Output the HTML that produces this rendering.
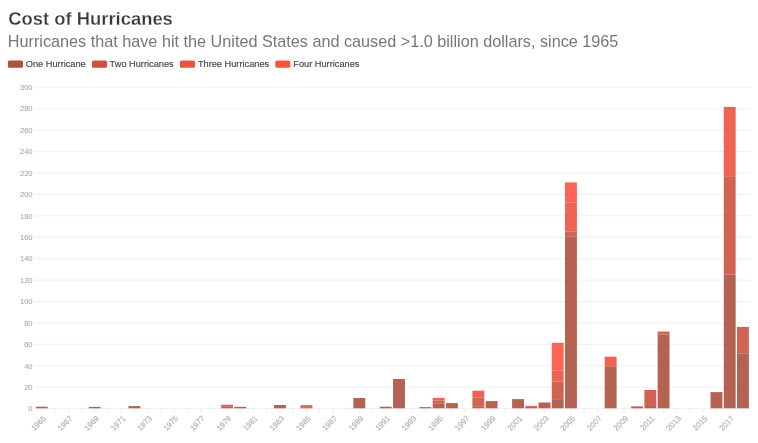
<!DOCTYPE html>
<html><head><meta charset="utf-8"><style>
html,body{margin:0;padding:0;background:#fff;}
body{width:758px;height:443px;overflow:hidden;position:relative;font-family:"Liberation Sans",sans-serif;}
svg{position:absolute;left:0;top:0;will-change:transform;}
</style></head><body>
<svg width="758" height="443" viewBox="0 0 758 443">
<text transform="translate(8.3,25.1) scale(1,1.02)" style="font-size:18.4px;font-weight:bold" fill="#383838" stroke="#fff" stroke-linejoin="round" stroke-width="0.25">Cost of Hurricanes</text>
<text transform="translate(7.8,46.8) scale(1,1.02)" style="font-size:16.22px" fill="#777">Hurricanes that have hit the United States and caused &gt;1.0 billion dollars, since 1965</text>
<rect x="7.9" y="60.4" width="15.1" height="7.3" rx="1.5" fill="#ac5240"/>
<text transform="translate(25.8,67.4)" style="font-size:9.22px" fill="#444" stroke="#444" stroke-linejoin="round" stroke-width="0.15">One Hurricane</text>
<rect x="92" y="60.4" width="15.1" height="7.3" rx="1.5" fill="#cc5240"/>
<text transform="translate(109.6,67.4)" style="font-size:9.22px" fill="#444" stroke="#444" stroke-linejoin="round" stroke-width="0.15">Two Hurricanes</text>
<rect x="179.9" y="60.4" width="15.1" height="7.3" rx="1.5" fill="#ec5240"/>
<text transform="translate(197.9,67.4)" style="font-size:9.22px" fill="#444" stroke="#444" stroke-linejoin="round" stroke-width="0.15">Three Hurricanes</text>
<rect x="275.3" y="60.4" width="15.1" height="7.3" rx="1.5" fill="#ff5240"/>
<text transform="translate(293.3,67.4)" style="font-size:9.22px" fill="#444" stroke="#444" stroke-linejoin="round" stroke-width="0.15">Four Hurricanes</text>
<line x1="35.19" x2="750.1" y1="408.65" y2="408.65" stroke="#ebebeb" stroke-width="0.8"/>
<text transform="translate(32.6,411.400) scale(1,1.04)" text-anchor="end" style="font-size:7.6px" fill="#b2b2b2" stroke="#b2b2b2" stroke-linejoin="round" stroke-width="0.18">0</text>
<line x1="35.19" x2="750.1" y1="387.23" y2="387.23" stroke="#ebebeb" stroke-width="0.8"/>
<text transform="translate(32.6,389.978) scale(1,1.04)" text-anchor="end" style="font-size:7.6px" fill="#b2b2b2" stroke="#b2b2b2" stroke-linejoin="round" stroke-width="0.18">20</text>
<line x1="35.19" x2="750.1" y1="365.81" y2="365.81" stroke="#ebebeb" stroke-width="0.8"/>
<text transform="translate(32.6,368.556) scale(1,1.04)" text-anchor="end" style="font-size:7.6px" fill="#b2b2b2" stroke="#b2b2b2" stroke-linejoin="round" stroke-width="0.18">40</text>
<line x1="35.19" x2="750.1" y1="344.38" y2="344.38" stroke="#ebebeb" stroke-width="0.8"/>
<text transform="translate(32.6,347.134) scale(1,1.04)" text-anchor="end" style="font-size:7.6px" fill="#b2b2b2" stroke="#b2b2b2" stroke-linejoin="round" stroke-width="0.18">60</text>
<line x1="35.19" x2="750.1" y1="322.96" y2="322.96" stroke="#ebebeb" stroke-width="0.8"/>
<text transform="translate(32.6,325.712) scale(1,1.04)" text-anchor="end" style="font-size:7.6px" fill="#b2b2b2" stroke="#b2b2b2" stroke-linejoin="round" stroke-width="0.18">80</text>
<line x1="35.19" x2="750.1" y1="301.54" y2="301.54" stroke="#ebebeb" stroke-width="0.8"/>
<text transform="translate(32.6,304.290) scale(1,1.04)" text-anchor="end" style="font-size:7.6px" fill="#b2b2b2" stroke="#b2b2b2" stroke-linejoin="round" stroke-width="0.18">100</text>
<line x1="35.19" x2="750.1" y1="280.12" y2="280.12" stroke="#ebebeb" stroke-width="0.8"/>
<text transform="translate(32.6,282.868) scale(1,1.04)" text-anchor="end" style="font-size:7.6px" fill="#b2b2b2" stroke="#b2b2b2" stroke-linejoin="round" stroke-width="0.18">120</text>
<line x1="35.19" x2="750.1" y1="258.70" y2="258.70" stroke="#ebebeb" stroke-width="0.8"/>
<text transform="translate(32.6,261.446) scale(1,1.04)" text-anchor="end" style="font-size:7.6px" fill="#b2b2b2" stroke="#b2b2b2" stroke-linejoin="round" stroke-width="0.18">140</text>
<line x1="35.19" x2="750.1" y1="237.27" y2="237.27" stroke="#ebebeb" stroke-width="0.8"/>
<text transform="translate(32.6,240.024) scale(1,1.04)" text-anchor="end" style="font-size:7.6px" fill="#b2b2b2" stroke="#b2b2b2" stroke-linejoin="round" stroke-width="0.18">160</text>
<line x1="35.19" x2="750.1" y1="215.85" y2="215.85" stroke="#ebebeb" stroke-width="0.8"/>
<text transform="translate(32.6,218.602) scale(1,1.04)" text-anchor="end" style="font-size:7.6px" fill="#b2b2b2" stroke="#b2b2b2" stroke-linejoin="round" stroke-width="0.18">180</text>
<line x1="35.19" x2="750.1" y1="194.43" y2="194.43" stroke="#ebebeb" stroke-width="0.8"/>
<text transform="translate(32.6,197.180) scale(1,1.04)" text-anchor="end" style="font-size:7.6px" fill="#b2b2b2" stroke="#b2b2b2" stroke-linejoin="round" stroke-width="0.18">200</text>
<line x1="35.19" x2="750.1" y1="173.01" y2="173.01" stroke="#ebebeb" stroke-width="0.8"/>
<text transform="translate(32.6,175.758) scale(1,1.04)" text-anchor="end" style="font-size:7.6px" fill="#b2b2b2" stroke="#b2b2b2" stroke-linejoin="round" stroke-width="0.18">220</text>
<line x1="35.19" x2="750.1" y1="151.59" y2="151.59" stroke="#ebebeb" stroke-width="0.8"/>
<text transform="translate(32.6,154.336) scale(1,1.04)" text-anchor="end" style="font-size:7.6px" fill="#b2b2b2" stroke="#b2b2b2" stroke-linejoin="round" stroke-width="0.18">240</text>
<line x1="35.19" x2="750.1" y1="130.16" y2="130.16" stroke="#ebebeb" stroke-width="0.8"/>
<text transform="translate(32.6,132.914) scale(1,1.04)" text-anchor="end" style="font-size:7.6px" fill="#b2b2b2" stroke="#b2b2b2" stroke-linejoin="round" stroke-width="0.18">260</text>
<line x1="35.19" x2="750.1" y1="108.74" y2="108.74" stroke="#ebebeb" stroke-width="0.8"/>
<text transform="translate(32.6,111.492) scale(1,1.04)" text-anchor="end" style="font-size:7.6px" fill="#b2b2b2" stroke="#b2b2b2" stroke-linejoin="round" stroke-width="0.18">280</text>
<line x1="35.19" x2="750.1" y1="87.32" y2="87.32" stroke="#ebebeb" stroke-width="0.8"/>
<text transform="translate(32.6,90.070) scale(1,1.04)" text-anchor="end" style="font-size:7.6px" fill="#b2b2b2" stroke="#b2b2b2" stroke-linejoin="round" stroke-width="0.18">300</text>
<line x1="41.80" x2="41.80" y1="408.60" y2="412.90" stroke="#ebebeb" stroke-width="0.8"/>
<line x1="55.03" x2="55.03" y1="408.60" y2="412.90" stroke="#ebebeb" stroke-width="0.8"/>
<line x1="68.26" x2="68.26" y1="408.60" y2="412.90" stroke="#ebebeb" stroke-width="0.8"/>
<line x1="81.49" x2="81.49" y1="408.60" y2="412.90" stroke="#ebebeb" stroke-width="0.8"/>
<line x1="94.72" x2="94.72" y1="408.60" y2="412.90" stroke="#ebebeb" stroke-width="0.8"/>
<line x1="107.95" x2="107.95" y1="408.60" y2="412.90" stroke="#ebebeb" stroke-width="0.8"/>
<line x1="121.18" x2="121.18" y1="408.60" y2="412.90" stroke="#ebebeb" stroke-width="0.8"/>
<line x1="134.41" x2="134.41" y1="408.60" y2="412.90" stroke="#ebebeb" stroke-width="0.8"/>
<line x1="147.64" x2="147.64" y1="408.60" y2="412.90" stroke="#ebebeb" stroke-width="0.8"/>
<line x1="160.87" x2="160.87" y1="408.60" y2="412.90" stroke="#ebebeb" stroke-width="0.8"/>
<line x1="174.09" x2="174.09" y1="408.60" y2="412.90" stroke="#ebebeb" stroke-width="0.8"/>
<line x1="187.32" x2="187.32" y1="408.60" y2="412.90" stroke="#ebebeb" stroke-width="0.8"/>
<line x1="200.55" x2="200.55" y1="408.60" y2="412.90" stroke="#ebebeb" stroke-width="0.8"/>
<line x1="213.78" x2="213.78" y1="408.60" y2="412.90" stroke="#ebebeb" stroke-width="0.8"/>
<line x1="227.01" x2="227.01" y1="408.60" y2="412.90" stroke="#ebebeb" stroke-width="0.8"/>
<line x1="240.24" x2="240.24" y1="408.60" y2="412.90" stroke="#ebebeb" stroke-width="0.8"/>
<line x1="253.47" x2="253.47" y1="408.60" y2="412.90" stroke="#ebebeb" stroke-width="0.8"/>
<line x1="266.70" x2="266.70" y1="408.60" y2="412.90" stroke="#ebebeb" stroke-width="0.8"/>
<line x1="279.93" x2="279.93" y1="408.60" y2="412.90" stroke="#ebebeb" stroke-width="0.8"/>
<line x1="293.16" x2="293.16" y1="408.60" y2="412.90" stroke="#ebebeb" stroke-width="0.8"/>
<line x1="306.38" x2="306.38" y1="408.60" y2="412.90" stroke="#ebebeb" stroke-width="0.8"/>
<line x1="319.61" x2="319.61" y1="408.60" y2="412.90" stroke="#ebebeb" stroke-width="0.8"/>
<line x1="332.84" x2="332.84" y1="408.60" y2="412.90" stroke="#ebebeb" stroke-width="0.8"/>
<line x1="346.07" x2="346.07" y1="408.60" y2="412.90" stroke="#ebebeb" stroke-width="0.8"/>
<line x1="359.30" x2="359.30" y1="408.60" y2="412.90" stroke="#ebebeb" stroke-width="0.8"/>
<line x1="372.53" x2="372.53" y1="408.60" y2="412.90" stroke="#ebebeb" stroke-width="0.8"/>
<line x1="385.76" x2="385.76" y1="408.60" y2="412.90" stroke="#ebebeb" stroke-width="0.8"/>
<line x1="398.99" x2="398.99" y1="408.60" y2="412.90" stroke="#ebebeb" stroke-width="0.8"/>
<line x1="412.22" x2="412.22" y1="408.60" y2="412.90" stroke="#ebebeb" stroke-width="0.8"/>
<line x1="425.45" x2="425.45" y1="408.60" y2="412.90" stroke="#ebebeb" stroke-width="0.8"/>
<line x1="438.67" x2="438.67" y1="408.60" y2="412.90" stroke="#ebebeb" stroke-width="0.8"/>
<line x1="451.90" x2="451.90" y1="408.60" y2="412.90" stroke="#ebebeb" stroke-width="0.8"/>
<line x1="465.13" x2="465.13" y1="408.60" y2="412.90" stroke="#ebebeb" stroke-width="0.8"/>
<line x1="478.36" x2="478.36" y1="408.60" y2="412.90" stroke="#ebebeb" stroke-width="0.8"/>
<line x1="491.59" x2="491.59" y1="408.60" y2="412.90" stroke="#ebebeb" stroke-width="0.8"/>
<line x1="504.82" x2="504.82" y1="408.60" y2="412.90" stroke="#ebebeb" stroke-width="0.8"/>
<line x1="518.05" x2="518.05" y1="408.60" y2="412.90" stroke="#ebebeb" stroke-width="0.8"/>
<line x1="531.28" x2="531.28" y1="408.60" y2="412.90" stroke="#ebebeb" stroke-width="0.8"/>
<line x1="544.51" x2="544.51" y1="408.60" y2="412.90" stroke="#ebebeb" stroke-width="0.8"/>
<line x1="557.74" x2="557.74" y1="408.60" y2="412.90" stroke="#ebebeb" stroke-width="0.8"/>
<line x1="570.96" x2="570.96" y1="408.60" y2="412.90" stroke="#ebebeb" stroke-width="0.8"/>
<line x1="584.19" x2="584.19" y1="408.60" y2="412.90" stroke="#ebebeb" stroke-width="0.8"/>
<line x1="597.42" x2="597.42" y1="408.60" y2="412.90" stroke="#ebebeb" stroke-width="0.8"/>
<line x1="610.65" x2="610.65" y1="408.60" y2="412.90" stroke="#ebebeb" stroke-width="0.8"/>
<line x1="623.88" x2="623.88" y1="408.60" y2="412.90" stroke="#ebebeb" stroke-width="0.8"/>
<line x1="637.11" x2="637.11" y1="408.60" y2="412.90" stroke="#ebebeb" stroke-width="0.8"/>
<line x1="650.34" x2="650.34" y1="408.60" y2="412.90" stroke="#ebebeb" stroke-width="0.8"/>
<line x1="663.57" x2="663.57" y1="408.60" y2="412.90" stroke="#ebebeb" stroke-width="0.8"/>
<line x1="676.80" x2="676.80" y1="408.60" y2="412.90" stroke="#ebebeb" stroke-width="0.8"/>
<line x1="690.03" x2="690.03" y1="408.60" y2="412.90" stroke="#ebebeb" stroke-width="0.8"/>
<line x1="703.25" x2="703.25" y1="408.60" y2="412.90" stroke="#ebebeb" stroke-width="0.8"/>
<line x1="716.48" x2="716.48" y1="408.60" y2="412.90" stroke="#ebebeb" stroke-width="0.8"/>
<line x1="729.71" x2="729.71" y1="408.60" y2="412.90" stroke="#ebebeb" stroke-width="0.8"/>
<line x1="742.94" x2="742.94" y1="408.60" y2="412.90" stroke="#ebebeb" stroke-width="0.8"/>
<text transform="translate(46.60,419.10) rotate(-45) scale(1,1.04)" text-anchor="end" style="font-size:7.65px" fill="#b2b2b2" stroke="#b2b2b2" stroke-linejoin="round" stroke-width="0.18">1965</text>
<text transform="translate(73.06,419.10) rotate(-45) scale(1,1.04)" text-anchor="end" style="font-size:7.65px" fill="#b2b2b2" stroke="#b2b2b2" stroke-linejoin="round" stroke-width="0.18">1967</text>
<text transform="translate(99.52,419.10) rotate(-45) scale(1,1.04)" text-anchor="end" style="font-size:7.65px" fill="#b2b2b2" stroke="#b2b2b2" stroke-linejoin="round" stroke-width="0.18">1969</text>
<text transform="translate(125.98,419.10) rotate(-45) scale(1,1.04)" text-anchor="end" style="font-size:7.65px" fill="#b2b2b2" stroke="#b2b2b2" stroke-linejoin="round" stroke-width="0.18">1971</text>
<text transform="translate(152.44,419.10) rotate(-45) scale(1,1.04)" text-anchor="end" style="font-size:7.65px" fill="#b2b2b2" stroke="#b2b2b2" stroke-linejoin="round" stroke-width="0.18">1973</text>
<text transform="translate(178.89,419.10) rotate(-45) scale(1,1.04)" text-anchor="end" style="font-size:7.65px" fill="#b2b2b2" stroke="#b2b2b2" stroke-linejoin="round" stroke-width="0.18">1975</text>
<text transform="translate(205.35,419.10) rotate(-45) scale(1,1.04)" text-anchor="end" style="font-size:7.65px" fill="#b2b2b2" stroke="#b2b2b2" stroke-linejoin="round" stroke-width="0.18">1977</text>
<text transform="translate(231.81,419.10) rotate(-45) scale(1,1.04)" text-anchor="end" style="font-size:7.65px" fill="#b2b2b2" stroke="#b2b2b2" stroke-linejoin="round" stroke-width="0.18">1979</text>
<text transform="translate(258.27,419.10) rotate(-45) scale(1,1.04)" text-anchor="end" style="font-size:7.65px" fill="#b2b2b2" stroke="#b2b2b2" stroke-linejoin="round" stroke-width="0.18">1981</text>
<text transform="translate(284.73,419.10) rotate(-45) scale(1,1.04)" text-anchor="end" style="font-size:7.65px" fill="#b2b2b2" stroke="#b2b2b2" stroke-linejoin="round" stroke-width="0.18">1983</text>
<text transform="translate(311.18,419.10) rotate(-45) scale(1,1.04)" text-anchor="end" style="font-size:7.65px" fill="#b2b2b2" stroke="#b2b2b2" stroke-linejoin="round" stroke-width="0.18">1985</text>
<text transform="translate(337.64,419.10) rotate(-45) scale(1,1.04)" text-anchor="end" style="font-size:7.65px" fill="#b2b2b2" stroke="#b2b2b2" stroke-linejoin="round" stroke-width="0.18">1987</text>
<text transform="translate(364.10,419.10) rotate(-45) scale(1,1.04)" text-anchor="end" style="font-size:7.65px" fill="#b2b2b2" stroke="#b2b2b2" stroke-linejoin="round" stroke-width="0.18">1989</text>
<text transform="translate(390.56,419.10) rotate(-45) scale(1,1.04)" text-anchor="end" style="font-size:7.65px" fill="#b2b2b2" stroke="#b2b2b2" stroke-linejoin="round" stroke-width="0.18">1991</text>
<text transform="translate(417.02,419.10) rotate(-45) scale(1,1.04)" text-anchor="end" style="font-size:7.65px" fill="#b2b2b2" stroke="#b2b2b2" stroke-linejoin="round" stroke-width="0.18">1993</text>
<text transform="translate(443.47,419.10) rotate(-45) scale(1,1.04)" text-anchor="end" style="font-size:7.65px" fill="#b2b2b2" stroke="#b2b2b2" stroke-linejoin="round" stroke-width="0.18">1995</text>
<text transform="translate(469.93,419.10) rotate(-45) scale(1,1.04)" text-anchor="end" style="font-size:7.65px" fill="#b2b2b2" stroke="#b2b2b2" stroke-linejoin="round" stroke-width="0.18">1997</text>
<text transform="translate(496.39,419.10) rotate(-45) scale(1,1.04)" text-anchor="end" style="font-size:7.65px" fill="#b2b2b2" stroke="#b2b2b2" stroke-linejoin="round" stroke-width="0.18">1999</text>
<text transform="translate(522.85,419.10) rotate(-45) scale(1,1.04)" text-anchor="end" style="font-size:7.65px" fill="#b2b2b2" stroke="#b2b2b2" stroke-linejoin="round" stroke-width="0.18">2001</text>
<text transform="translate(549.31,419.10) rotate(-45) scale(1,1.04)" text-anchor="end" style="font-size:7.65px" fill="#b2b2b2" stroke="#b2b2b2" stroke-linejoin="round" stroke-width="0.18">2003</text>
<text transform="translate(575.76,419.10) rotate(-45) scale(1,1.04)" text-anchor="end" style="font-size:7.65px" fill="#b2b2b2" stroke="#b2b2b2" stroke-linejoin="round" stroke-width="0.18">2005</text>
<text transform="translate(602.22,419.10) rotate(-45) scale(1,1.04)" text-anchor="end" style="font-size:7.65px" fill="#b2b2b2" stroke="#b2b2b2" stroke-linejoin="round" stroke-width="0.18">2007</text>
<text transform="translate(628.68,419.10) rotate(-45) scale(1,1.04)" text-anchor="end" style="font-size:7.65px" fill="#b2b2b2" stroke="#b2b2b2" stroke-linejoin="round" stroke-width="0.18">2009</text>
<text transform="translate(655.14,419.10) rotate(-45) scale(1,1.04)" text-anchor="end" style="font-size:7.65px" fill="#b2b2b2" stroke="#b2b2b2" stroke-linejoin="round" stroke-width="0.18">2011</text>
<text transform="translate(681.60,419.10) rotate(-45) scale(1,1.04)" text-anchor="end" style="font-size:7.65px" fill="#b2b2b2" stroke="#b2b2b2" stroke-linejoin="round" stroke-width="0.18">2013</text>
<text transform="translate(708.05,419.10) rotate(-45) scale(1,1.04)" text-anchor="end" style="font-size:7.65px" fill="#b2b2b2" stroke="#b2b2b2" stroke-linejoin="round" stroke-width="0.18">2015</text>
<text transform="translate(734.51,419.10) rotate(-45) scale(1,1.04)" text-anchor="end" style="font-size:7.65px" fill="#b2b2b2" stroke="#b2b2b2" stroke-linejoin="round" stroke-width="0.18">2017</text>
<rect x="35.85" y="406.70" width="11.90" height="1.60" fill="#ac5240" fill-opacity="0.9"/>
<rect x="88.77" y="406.90" width="11.90" height="1.40" fill="#ac5240" fill-opacity="0.9"/>
<rect x="128.46" y="406.10" width="11.90" height="2.20" fill="#ac5240" fill-opacity="0.9"/>
<rect x="221.06" y="406.60" width="11.90" height="1.70" fill="#ac5240" fill-opacity="0.9"/>
<rect x="221.06" y="404.70" width="11.90" height="1.90" fill="#cc5240" fill-opacity="0.9"/>
<rect x="234.29" y="406.80" width="11.90" height="1.50" fill="#ac5240" fill-opacity="0.9"/>
<rect x="273.98" y="405.00" width="11.90" height="3.30" fill="#ac5240" fill-opacity="0.9"/>
<rect x="300.43" y="407.20" width="11.90" height="1.10" fill="#ac5240" fill-opacity="0.9"/>
<rect x="300.43" y="405.20" width="11.90" height="2.00" fill="#cc5240" fill-opacity="0.9"/>
<rect x="353.35" y="398.00" width="11.90" height="10.30" fill="#ac5240" fill-opacity="0.9"/>
<rect x="379.81" y="406.70" width="11.90" height="1.60" fill="#ac5240" fill-opacity="0.9"/>
<rect x="393.04" y="379.00" width="11.90" height="29.30" fill="#ac5240" fill-opacity="0.9"/>
<rect x="419.50" y="407.10" width="11.90" height="1.20" fill="#ac5240" fill-opacity="0.9"/>
<rect x="432.72" y="403.30" width="11.90" height="5.00" fill="#ac5240" fill-opacity="0.9"/>
<rect x="432.72" y="400.60" width="11.90" height="2.70" fill="#cc5240" fill-opacity="0.9"/>
<rect x="432.72" y="397.90" width="11.90" height="2.70" fill="#ec5240" fill-opacity="0.9"/>
<rect x="445.95" y="403.10" width="11.90" height="5.20" fill="#ac5240" fill-opacity="0.9"/>
<rect x="472.41" y="406.80" width="11.90" height="1.50" fill="#ac5240" fill-opacity="0.9"/>
<rect x="472.41" y="397.50" width="11.90" height="9.30" fill="#cc5240" fill-opacity="0.9"/>
<rect x="472.41" y="390.70" width="11.90" height="6.80" fill="#ec5240" fill-opacity="0.9"/>
<rect x="485.64" y="401.10" width="11.90" height="7.20" fill="#ac5240" fill-opacity="0.9"/>
<rect x="512.10" y="399.10" width="11.90" height="9.20" fill="#ac5240" fill-opacity="0.9"/>
<rect x="525.33" y="406.90" width="11.90" height="1.40" fill="#ac5240" fill-opacity="0.9"/>
<rect x="525.33" y="405.90" width="11.90" height="1.00" fill="#cc5240" fill-opacity="0.9"/>
<rect x="538.56" y="402.50" width="11.90" height="5.80" fill="#ac5240" fill-opacity="0.9"/>
<rect x="551.79" y="399.90" width="11.90" height="8.40" fill="#ac5240" fill-opacity="0.9"/>
<rect x="551.79" y="381.60" width="11.90" height="18.30" fill="#cc5240" fill-opacity="0.9"/>
<rect x="551.79" y="370.70" width="11.90" height="10.90" fill="#ec5240" fill-opacity="0.9"/>
<rect x="551.79" y="342.80" width="11.90" height="27.90" fill="#ff5240" fill-opacity="0.9"/>
<rect x="565.01" y="236.70" width="11.90" height="171.60" fill="#ac5240" fill-opacity="0.9"/>
<rect x="565.01" y="231.40" width="11.90" height="5.30" fill="#cc5240" fill-opacity="0.9"/>
<rect x="565.01" y="202.70" width="11.90" height="28.70" fill="#ec5240" fill-opacity="0.9"/>
<rect x="565.01" y="182.40" width="11.90" height="20.30" fill="#ff5240" fill-opacity="0.9"/>
<rect x="604.70" y="366.80" width="11.90" height="41.50" fill="#ac5240" fill-opacity="0.9"/>
<rect x="604.70" y="356.70" width="11.90" height="10.10" fill="#ec5240" fill-opacity="0.9"/>
<rect x="631.16" y="406.40" width="11.90" height="1.90" fill="#ac5240" fill-opacity="0.9"/>
<rect x="644.39" y="405.10" width="11.90" height="3.20" fill="#ac5240" fill-opacity="0.9"/>
<rect x="644.39" y="390.00" width="11.90" height="15.10" fill="#cc5240" fill-opacity="0.9"/>
<rect x="657.62" y="334.60" width="11.90" height="73.70" fill="#ac5240" fill-opacity="0.9"/>
<rect x="657.62" y="331.50" width="11.90" height="3.10" fill="#cc5240" fill-opacity="0.9"/>
<rect x="710.53" y="392.10" width="11.90" height="16.20" fill="#ac5240" fill-opacity="0.9"/>
<rect x="723.76" y="274.50" width="11.90" height="133.80" fill="#ac5240" fill-opacity="0.9"/>
<rect x="723.76" y="176.20" width="11.90" height="98.30" fill="#cc5240" fill-opacity="0.9"/>
<rect x="723.76" y="106.90" width="11.90" height="69.30" fill="#ec5240" fill-opacity="0.9"/>
<rect x="736.99" y="353.60" width="11.90" height="54.70" fill="#ac5240" fill-opacity="0.9"/>
<rect x="736.99" y="326.90" width="11.90" height="26.70" fill="#cc5240" fill-opacity="0.9"/>
</svg>
</body></html>
